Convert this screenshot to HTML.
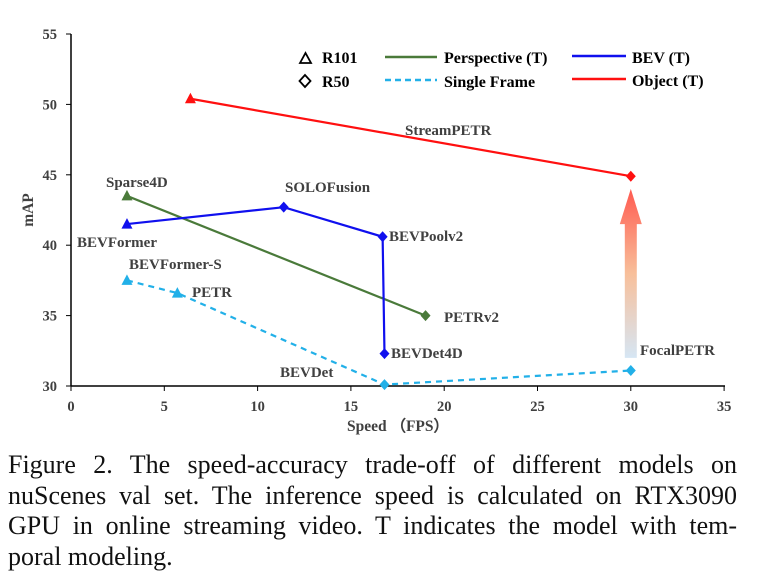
<!DOCTYPE html>
<html><head><meta charset="utf-8"><style>
body{margin:0;background:#fff;width:757px;height:588px;overflow:hidden}
svg text{font-family:"Liberation Serif",serif;font-weight:bold;fill:#404040}
#cap{position:absolute;left:8px;top:450px;width:729px;font-family:"Liberation Serif",serif;font-size:26px;line-height:30.6px;color:#111}
#cap div{text-align:justify;text-align-last:justify;white-space:nowrap;height:30.6px}
#cap div.last{text-align-last:left}
</style></head><body>
<svg id="chart" width="757" height="440" style="position:absolute;left:0;top:0">
<defs><linearGradient id="ag" x1="0" y1="1" x2="0" y2="0">
<stop offset="0" stop-color="#d6e6f4"/><stop offset="0.5" stop-color="#f8bf9a"/><stop offset="1" stop-color="#ff5a50"/></linearGradient></defs>
<g id="axes"></g><g id="marks"></g>
<g font-size="16">
<path d="M300 63 L305.5 53 L311 63 Z" fill="none" stroke="#000" stroke-width="1.8"/>
<text x="322" y="63" style="fill:#000">R101</text>
<path d="M305 75 L310.5 81 L305 87 L299.5 81 Z" fill="none" stroke="#000" stroke-width="1.8"/>
<text x="322" y="87" style="fill:#000">R50</text>
<line x1="385" y1="57" x2="437" y2="57" stroke="#4a7a3a" stroke-width="2.5"/>
<text x="444" y="63" style="fill:#000">Perspective (T)</text>
<line x1="385" y1="80" x2="437" y2="80" stroke="#22b0e8" stroke-width="2.5" stroke-dasharray="6,4"/>
<text x="444" y="87" style="fill:#000">Single Frame</text>
<line x1="572" y1="56" x2="626" y2="56" stroke="#1010ee" stroke-width="2.5"/>
<text x="632" y="63" style="fill:#000">BEV (T)</text>
<line x1="572" y1="79" x2="626" y2="79" stroke="#ff1010" stroke-width="2.5"/>
<text x="632" y="86" style="fill:#000">Object (T)</text>
</g>
</svg>
<div id="cap">
<div>Figure 2. The speed-accuracy trade-off of different models on</div>
<div>nuScenes val set. The inference speed is calculated on RTX3090</div>
<div>GPU in online streaming video. T indicates the model with tem-</div>
<div class="last">poral modeling.</div>
</div>
<script>
const xTicks=[0,5,10,15,20,25,30,35];
const yTicks=[30,35,40,45,50,55];
const objectX=[6.4,30], objectY=[50.4,44.9], objectM=['t','d'];
const bevX=[3,11.4,16.7,16.8], bevY=[41.5,42.7,40.6,32.3], bevM=['t','d','d','d'];
const perspX=[3,19], perspY=[43.5,35], perspM=['t','d'];
const singleX=[3,5.7,16.8,30], singleY=[37.5,36.6,30.1,31.1], singleM=['t','t','d','d'];
const labels=[["StreamPETR",405,135],["Sparse4D",106,187],["SOLOFusion",285,192],["BEVFormer",77,247],["BEVPoolv2",389,241],["BEVFormer-S",129,269],["PETR",192,297],["PETRv2",444,322],["BEVDet4D",391,358],["BEVDet",280,377],["FocalPETR",640,355]];
const X=v=>71+v*18.66, Y=v=>386-(v-30)*14.08;
const NS="http://www.w3.org/2000/svg";
const ax=document.getElementById('axes'), mk=document.getElementById('marks');
function el(p,t,a){const e=document.createElementNS(NS,t);for(const k in a)e.setAttribute(k,a[k]);p.appendChild(e);return e;}
let a=el(ax,'line',{x1:71,y1:34,x2:71,y2:386,stroke:'#000','stroke-width':1.5});

a=el(ax,'line',{x1:71,y1:386,x2:725,y2:386,stroke:'#000','stroke-width':1.5});

xTicks.forEach(t=>{el(ax,'line',{x1:X(t),y1:386,x2:X(t),y2:391,stroke:'#000'});
const e=el(ax,'text',{x:X(t),y:411,'text-anchor':'middle','font-size':14.5});e.textContent=t;
});
yTicks.forEach(t=>{el(ax,'line',{x1:66,y1:Y(t),x2:71,y2:Y(t),stroke:'#000'});
const e=el(ax,'text',{x:57,y:Y(t)+5,'text-anchor':'end','font-size':14.5});e.textContent=t;
});
let t=el(ax,'text',{x:398,y:431,'text-anchor':'middle','font-size':15.5});t.textContent='Speed （FPS）';

t=el(ax,'text',{x:33,y:210,'text-anchor':'middle','font-size':15.5,transform:'rotate(-90 33 210)'});t.textContent='mAP';

const ar=el(mk,'path',{d:`M${X(30)-6} ${Y(32)} L${X(30)-6} ${Y(41.5)} L${X(30)-11} ${Y(41.5)} L${X(30)} ${Y(44)} L${X(30)+11} ${Y(41.5)} L${X(30)+6} ${Y(41.5)} L${X(30)+6} ${Y(32)} Z`,fill:'url(#ag)'});

function series(xs,ys,ms,col,name,dash){
const l=el(mk,'polyline',{points:xs.map((x,i)=>X(x)+','+Y(ys[i])).join(' '),fill:'none',stroke:col,'stroke-width':2.2,'stroke-dasharray':dash||'none'});

xs.forEach((x,i)=>{const cx=X(x),cy=Y(ys[i]);let m;
if(ms[i]=='t')m=el(mk,'path',{d:`M${cx-5.5} ${cy+4.5} L${cx} ${cy-6} L${cx+5.5} ${cy+4.5} Z`,fill:col});
else m=el(mk,'path',{d:`M${cx} ${cy-5.5} L${cx+5} ${cy} L${cx} ${cy+5.5} L${cx-5} ${cy} Z`,fill:col});
});}
series(perspX,perspY,perspM,'#4a7a3a','perspective');
series(singleX,singleY,singleM,'#22b0e8','single-frame','6,5');
series(bevX,bevY,bevM,'#1010ee','bev');
series(objectX,objectY,objectM,'#ff1010','object');
labels.forEach(l=>{const e=el(mk,'text',{x:l[1],y:l[2],'font-size':15});e.textContent=l[0];
});
</script>
</body></html>
